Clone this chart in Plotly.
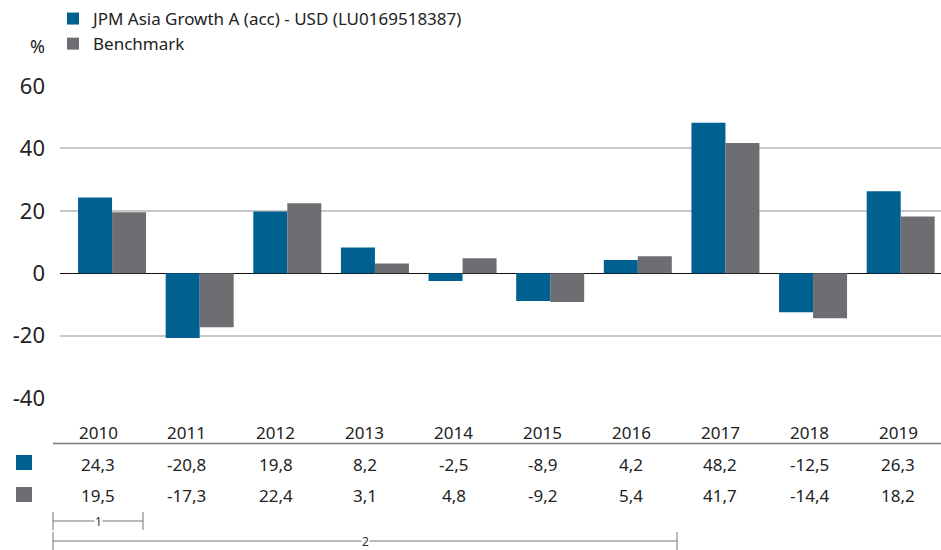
import plotly.graph_objects as go

years = ["2010", "2011", "2012", "2013", "2014", "2015", "2016", "2017", "2018", "2019"]
fund = [24.3, -20.8, 19.8, 8.2, -2.5, -8.9, 4.2, 48.2, -12.5, 26.3]
bench = [19.5, -17.3, 22.4, 3.1, 4.8, -9.2, 5.4, 41.7, -14.4, 18.2]
fund_name = "JPM Asia Growth A (acc) - USD (LU0169518387)"
bench_name = "Benchmark"
y_ticks = [-40, -20, 0, 20, 40, 60]

BLUE = "#00608F"
GREY = "#6D6E71"
FONT = "Noto Sans"
W, H = 941, 550
L, R, T, B = 60, 0, 86, 152
PW = W - L - R
PH = H - T - B

def px(x):
    return (x - L) / PW

def py(y):
    return (H - B - y) / PH

def fmt(v):
    return f"{v:.1f}".replace(".", ",")

xs = list(range(len(years)))
fig = go.Figure()
fig.add_trace(go.Bar(x=xs, y=fund, name=fund_name, marker_color=BLUE, marker_line_width=0))
fig.add_trace(go.Bar(x=xs, y=bench, name=bench_name, marker_color=GREY, marker_line_width=0))

annotations = []
shapes = []
# table
col0, colstep = 98, 88.9
for i, yr in enumerate(years):
    cx = px(col0 + colstep * i)
    annotations.append(dict(x=cx, y=py(432), xref="paper", yref="paper", text=yr, showarrow=False,
                            font=dict(size=17, color="#222"), xanchor="center", yanchor="middle"))
    annotations.append(dict(x=cx, y=py(464), xref="paper", yref="paper", text=fmt(fund[i]), showarrow=False,
                            font=dict(size=17, color="#222"), xanchor="center", yanchor="middle"))
    annotations.append(dict(x=cx, y=py(495), xref="paper", yref="paper", text=fmt(bench[i]), showarrow=False,
                            font=dict(size=17, color="#222"), xanchor="center", yanchor="middle"))
shapes.append(dict(type="line", xref="paper", yref="paper", x0=px(53), x1=px(941), y0=py(443.5), y1=py(443.5),
                   line=dict(color="#777", width=1.5)))
shapes.append(dict(type="rect", xref="paper", yref="paper", x0=px(16), x1=px(32), y0=py(455), y1=py(470),
                   fillcolor=BLUE, line_width=0))
shapes.append(dict(type="rect", xref="paper", yref="paper", x0=px(16), x1=px(32), y0=py(487), y1=py(502),
                   fillcolor=GREY, line_width=0))
# period brackets
for (x0, x1, yc, lab) in [(53, 143, 521, "1"), (53, 677, 541, "2")]:
    shapes.append(dict(type="line", xref="paper", yref="paper", x0=px(x0), x1=px(x1), y0=py(yc), y1=py(yc),
                       line=dict(color="#777", width=1)))
    for xx in (x0, x1):
        shapes.append(dict(type="line", xref="paper", yref="paper", x0=px(xx), x1=px(xx), y0=py(yc - 9), y1=py(yc + 9),
                           line=dict(color="#777", width=1)))
    annotations.append(dict(x=px((x0 + x1) / 2), y=py(yc), xref="paper", yref="paper", text=lab, showarrow=False,
                            font=dict(size=12, color="#333"), bgcolor="white",
                            xanchor="center", yanchor="middle", borderpad=0))
# % label
annotations.append(dict(x=px(37), y=py(46), xref="paper", yref="paper", text="%", showarrow=False,
                        font=dict(size=18, color="#222"), xanchor="center", yanchor="middle"))

fig.update_layout(
    width=W, height=H,
    margin=dict(l=L, r=R, t=T, b=B),
    paper_bgcolor="white", plot_bgcolor="white",
    font=dict(family=FONT, color="#222"),
    barmode="group", bargap=0.224, bargroupgap=0,
    xaxis=dict(range=[-0.594, 9.46], showticklabels=False, showgrid=False, zeroline=False,
               showline=False, ticks=""),
    yaxis=dict(range=[-40, 60], tickvals=y_ticks, ticktext=[str(v) for v in y_ticks],
               showgrid=True, gridcolor="#C8C8C8", gridwidth=1.5, zeroline=True, zerolinecolor="#111",
               zerolinewidth=1.2, showline=False, ticks="", tickfont=dict(size=22, color="#222"),
               ticklabelstandoff=14),
    legend=dict(x=px(53), y=py(1), xanchor="left", yanchor="top", orientation="v",
                font=dict(size=17, color="#222"), bgcolor="rgba(0,0,0,0)", tracegroupgap=2,
                itemwidth=30, traceorder="normal"),
    annotations=annotations, shapes=shapes,
)
fig.write_html("out.html", config={"displayModeBar": False},
               post_script="document.body.style.margin='0';document.body.style.padding='0';")
